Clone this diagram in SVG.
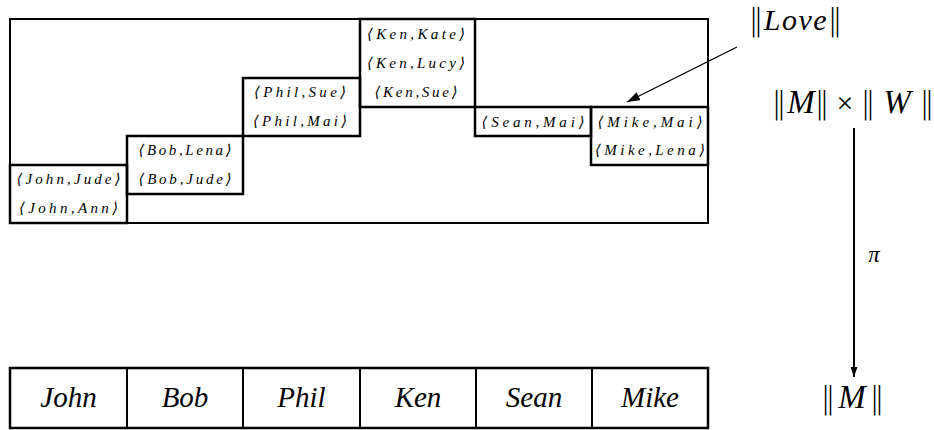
<svg xmlns="http://www.w3.org/2000/svg" width="934" height="430" viewBox="0 0 934 430">
<style>
.outer{fill:none;stroke:#000;stroke-width:2}
.box{fill:none;stroke:#000;stroke-width:2.5}
.div{stroke:#000;stroke-width:2}
text{font-family:'Liberation Serif','Times New Roman','DejaVu Serif',serif;fill:#000}
.pair{font-style:italic;font-size:15px;text-anchor:middle}
.name{font-style:italic;font-size:29px;text-anchor:middle}
.math{font-size:30px;text-anchor:middle}
.it{font-style:italic}
.big{font-size:33px}
.bar{font-family:'DejaVu Sans',sans-serif;font-style:normal;font-weight:300}
.conn{stroke:#000;fill:none}
</style>
<defs>
<marker id="ahLove" viewBox="0 0 13 9" refX="13" refY="4.5" markerWidth="13" markerHeight="9" markerUnits="userSpaceOnUse" orient="auto"><path d="M0,0 L13,4.5 L0,9 z" fill="#000"/></marker>
<marker id="ahPi" viewBox="0 0 10 7" refX="10" refY="3.5" markerWidth="10" markerHeight="7" markerUnits="userSpaceOnUse" orient="auto"><path d="M0,0 L10,3.5 L0,7 z" fill="#000"/></marker>
</defs>
<rect x="0" y="0" width="934" height="430" fill="#fff"/>

<g id="love-relation">
<rect class="outer" x="10" y="19" width="698" height="204"/>
<g id="pairs-john">
<rect class="box" x="10" y="165" width="117" height="58"/>
<text class="pair" x="68.5" y="184" textLength="104" lengthAdjust="spacing">⟨John,Jude⟩</text>
<text class="pair" x="68.5" y="213" textLength="99" lengthAdjust="spacing">⟨John,Ann⟩</text>
</g>
<g id="pairs-bob">
<rect class="box" x="127" y="136" width="116" height="58"/>
<text class="pair" x="185" y="155" textLength="93" lengthAdjust="spacing">⟨Bob,Lena⟩</text>
<text class="pair" x="185" y="184" textLength="93" lengthAdjust="spacing">⟨Bob,Jude⟩</text>
</g>
<g id="pairs-phil">
<rect class="box" x="243" y="78" width="117" height="58"/>
<text class="pair" x="300" y="97" textLength="92" lengthAdjust="spacing">⟨Phil,Sue⟩</text>
<text class="pair" x="300" y="126" textLength="94" lengthAdjust="spacing">⟨Phil,Mai⟩</text>
</g>
<g id="pairs-ken">
<rect class="box" x="360" y="19" width="115" height="88"/>
<text class="pair" x="416" y="39" textLength="98" lengthAdjust="spacing">⟨Ken,Kate⟩</text>
<text class="pair" x="416" y="68" textLength="98" lengthAdjust="spacing">⟨Ken,Lucy⟩</text>
<text class="pair" x="416" y="97" textLength="83" lengthAdjust="spacing">⟨Ken,Sue⟩</text>
</g>
<g id="pairs-sean">
<rect class="box" x="475" y="107" width="116" height="29"/>
<text class="pair" x="533" y="127" textLength="103" lengthAdjust="spacing">⟨Sean,Mai⟩</text>
</g>
<g id="pairs-mike">
<rect class="box" x="591" y="107" width="117" height="58"/>
<text class="pair" x="650" y="127" textLength="105" lengthAdjust="spacing">⟨Mike,Mai⟩</text>
<text class="pair" x="650" y="155" textLength="110" lengthAdjust="spacing">⟨Mike,Lena⟩</text>
</g>
</g>

<g id="men">
<rect class="outer" x="10" y="368" width="698" height="60" style="stroke-width:2.5"/>
<line class="div" x1="127" y1="368" x2="127" y2="428"/>
<line class="div" x1="243" y1="368" x2="243" y2="428"/>
<line class="div" x1="360" y1="368" x2="360" y2="428"/>
<line class="div" x1="476" y1="368" x2="476" y2="428"/>
<line class="div" x1="592" y1="368" x2="592" y2="428"/>
<text class="name" x="68.5" y="407">John</text>
<text class="name" x="185" y="407">Bob</text>
<text class="name" x="301.5" y="407">Phil</text>
<text class="name" x="418" y="407">Ken</text>
<text class="name" x="534" y="407">Sean</text>
<text class="name" x="650" y="407">Mike</text>
</g>

<g id="label-love">
<text class="math" y="30"><tspan class="bar" x="756">‖</tspan><tspan class="it" x="796" style="letter-spacing:1.5px">Love</tspan><tspan class="bar" x="835">‖</tspan></text>
</g>
<g id="label-product">
<text class="math" y="113"><tspan class="bar" x="779">‖</tspan><tspan class="it big" x="801">M</tspan><tspan class="bar" x="822">‖</tspan><tspan x="845">×</tspan><tspan class="bar" x="868">‖</tspan><tspan class="it big" x="897">W</tspan><tspan class="bar" x="927">‖</tspan></text>
</g>
<g id="label-m">
<text class="math" y="408"><tspan class="bar" x="828">‖</tspan><tspan class="it big" x="852">M</tspan><tspan class="bar" x="877">‖</tspan></text>
</g>

<g id="connectors">
<line class="conn" x1="737" y1="47" x2="627" y2="102" stroke-width="1.3" marker-end="url(#ahLove)"/>
<line class="conn" x1="854" y1="128" x2="854" y2="377" stroke-width="2" marker-end="url(#ahPi)"/>
<text x="874" y="262" text-anchor="middle" style="font-style:italic;font-size:23px">π</text>
</g>
</svg>
